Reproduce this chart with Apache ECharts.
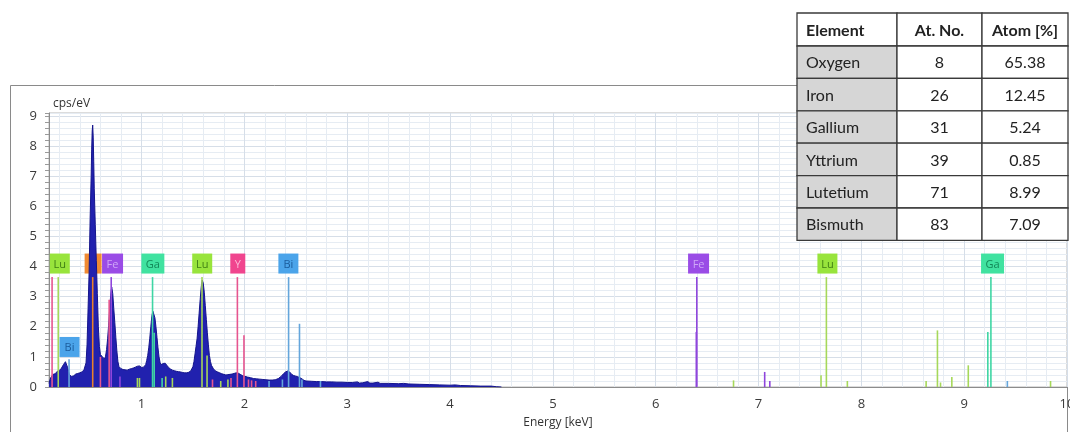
<!DOCTYPE html>
<html>
<head>
<meta charset="utf-8">
<script src="https://cdn.jsdelivr.net/npm/echarts@6/dist/echarts.min.js"></script>
<style>
html, body { margin: 0; padding: 0; background: #fff; }
#main { width: 1070px; height: 432px; }
</style>
</head>
<body>
<div id="main"></div>
<script>
// spectrum (keV, cps/eV)
var energies = [
	0.10, 0.11, 0.12, 0.13, 0.14, 0.15, 0.16, 0.17, 0.18, 0.19,
	0.20, 0.21, 0.22, 0.23, 0.24, 0.25, 0.26, 0.27, 0.28, 0.29,
	0.30, 0.31, 0.32, 0.33, 0.34, 0.35, 0.36, 0.37, 0.38, 0.39,
	0.40, 0.41, 0.42, 0.43, 0.44, 0.45, 0.46, 0.47, 0.48, 0.49,
	0.50, 0.51, 0.515, 0.52, 0.525, 0.53, 0.535, 0.54, 0.55, 0.56,
	0.57, 0.58, 0.59, 0.60, 0.61, 0.62, 0.63, 0.64, 0.65, 0.66,
	0.67, 0.68, 0.69, 0.70, 0.705, 0.71, 0.72, 0.73, 0.74, 0.75,
	0.76, 0.77, 0.78, 0.79, 0.80, 0.82, 0.84, 0.86, 0.88, 0.90,
	0.92, 0.94, 0.96, 0.98, 1.00, 1.02, 1.04, 1.05, 1.06, 1.07,
	1.08, 1.09, 1.10, 1.11, 1.115, 1.12, 1.13, 1.14, 1.15, 1.16,
	1.17, 1.18, 1.19, 1.20, 1.21, 1.22, 1.23, 1.24, 1.26, 1.28,
	1.30, 1.32, 1.34, 1.36, 1.38, 1.40, 1.42, 1.44, 1.46, 1.48,
	1.50, 1.51, 1.52, 1.53, 1.54, 1.55, 1.56, 1.57, 1.58, 1.585,
	1.59, 1.60, 1.61, 1.62, 1.63, 1.64, 1.65, 1.66, 1.67, 1.68,
	1.70, 1.72, 1.74, 1.76, 1.78, 1.80, 1.82, 1.84, 1.86, 1.88,
	1.90, 1.92, 1.94, 1.96, 1.98, 2.00, 2.03, 2.06, 2.09, 2.12,
	2.15, 2.18, 2.21, 2.24, 2.27, 2.30, 2.33, 2.36, 2.38, 2.40,
	2.42, 2.44, 2.46, 2.48, 2.50, 2.52, 2.54, 2.56, 2.58, 2.60,
	2.65, 2.70, 2.75, 2.80, 2.85, 2.90, 2.95, 3.00, 3.05, 3.10,
	3.12, 3.15, 3.20, 3.22, 3.25, 3.30, 3.32, 3.40, 3.50, 3.55,
	3.60, 3.70, 3.80, 3.90, 4.00, 4.05, 4.10, 4.20, 4.30, 4.40,
	4.45, 4.50
];
var counts = [
	0.12, 0.24, 0.33, 0.38, 0.42, 0.46, 0.44, 0.50, 0.52, 0.49,
	0.55, 0.58, 0.62, 0.66, 0.74, 0.80, 0.84, 0.78, 0.66, 0.52,
	0.40, 0.36, 0.35, 0.38, 0.37, 0.41, 0.43, 0.42, 0.45, 0.44,
	0.47, 0.49, 0.50, 0.53, 0.57, 0.63, 0.80, 1.40, 2.60, 3.80,
	5.60, 7.00, 7.90, 8.50, 8.70, 8.30, 7.50, 6.60, 5.40, 4.20,
	3.10, 2.00, 1.35, 1.08, 1.02, 1.00, 0.96, 0.93, 1.02, 1.25,
	1.60, 2.05, 2.60, 3.05, 3.22, 3.32, 3.10, 2.60, 2.15, 1.65,
	1.20, 0.85, 0.68, 0.62, 0.61, 0.58, 0.57, 0.56, 0.59, 0.61,
	0.63, 0.66, 0.69, 0.70, 0.65, 0.66, 0.74, 0.88, 1.05, 1.30,
	1.62, 2.00, 2.35, 2.52, 2.55, 2.50, 2.30, 2.00, 1.65, 1.30,
	1.00, 0.82, 0.74, 0.73, 0.78, 0.81, 0.79, 0.74, 0.66, 0.60,
	0.56, 0.54, 0.52, 0.51, 0.50, 0.48, 0.47, 0.47, 0.49, 0.54,
	0.68, 0.85, 1.10, 1.35, 1.60, 2.00, 2.45, 2.90, 3.30, 3.45,
	3.55, 3.45, 3.15, 2.70, 2.25, 1.80, 1.40, 1.05, 0.85, 0.72,
	0.60, 0.53, 0.50, 0.47, 0.44, 0.42, 0.40, 0.41, 0.42, 0.43,
	0.45, 0.47, 0.46, 0.42, 0.38, 0.36, 0.33, 0.31, 0.28, 0.27,
	0.26, 0.25, 0.24, 0.23, 0.23, 0.24, 0.28, 0.36, 0.44, 0.50,
	0.53, 0.50, 0.42, 0.38, 0.36, 0.34, 0.31, 0.27, 0.22, 0.20,
	0.19, 0.18, 0.18, 0.17, 0.17, 0.16, 0.16, 0.15, 0.15, 0.17,
	0.13, 0.14, 0.18, 0.13, 0.13, 0.16, 0.12, 0.12, 0.11, 0.12,
	0.10, 0.09, 0.08, 0.07, 0.06, 0.07, 0.05, 0.04, 0.03, 0.03,
	0.01, 0.00
];

// element line markers: energy (keV), height (cps/eV), element
var lineEnergies = [0.13, 0.19, 0.295, 0.525, 0.60, 0.685, 0.705, 0.79, 0.96, 0.98,
	1.107, 1.123, 1.20, 1.235, 1.30, 1.588, 1.637, 1.69, 1.77, 1.84,
	1.87, 1.932, 1.996, 2.04, 2.07, 2.11, 2.24, 2.37, 2.43, 2.536,
	2.56, 2.74, 6.40, 6.395, 6.757, 7.06, 7.11, 7.608, 7.66, 7.864,
	8.63, 8.74, 8.77, 8.88, 9.04, 9.23, 9.26, 9.42, 9.84];
var lineHeights = [3.65, 3.65, 0.92, 3.65, 1.0, 2.9, 3.65, 0.35, 0.3, 0.3,
	3.65, 1.8, 0.3, 0.35, 0.3, 3.65, 1.05, 0.25, 0.2, 0.25,
	0.3, 3.65, 1.72, 0.25, 0.22, 0.2, 0.2, 0.25, 3.65, 2.1,
	0.25, 0.2, 3.65, 1.83, 0.22, 0.5, 0.2, 0.39, 3.65, 0.2,
	0.2, 1.88, 0.15, 0.33, 0.72, 1.83, 3.65, 0.2, 0.2];
var lineElements = ['Y', 'Lu', 'Bi', 'O', 'Y', 'Y', 'Fe', 'Fe', 'Lu', 'Lu',
	'Ga', 'Ga', 'Ga', 'Lu', 'Lu', 'Lu', 'Lu', 'Y', 'Lu', 'Lu',
	'Y', 'Y', 'Y', 'Y', 'Y', 'Y', 'Bi', 'Bi', 'Bi', 'Bi',
	'Bi', 'Bi', 'Fe', 'Fe', 'Lu', 'Fe', 'Fe', 'Lu', 'Lu', 'Lu',
	'Lu', 'Lu', 'Lu', 'Lu', 'Lu', 'Ga', 'Ga', 'Bi', 'Lu'];

// element label boxes
var labelEnergies = [0.205, 0.529, 0.718, 1.11, 1.59, 1.936, 2.428, 0.30, 6.417, 7.67, 9.276];
var labelLevels = [4.1, 4.1, 4.1, 4.1, 4.1, 4.1, 4.1, 1.33, 4.1, 4.1, 4.1];
var labelElements = ['Lu', 'O', 'Fe', 'Ga', 'Lu', 'Y', 'Bi', 'Bi', 'Fe', 'Lu', 'Ga'];

// quantification table
var tableHeader = ['Element', 'At. No.', 'Atom [%]'];
var tableNames = ['Oxygen', 'Iron', 'Gallium', 'Yttrium', 'Lutetium', 'Bismuth'];
var tableAtNo = ['8', '26', '31', '39', '71', '83'];
var tableAtom = ['65.38', '12.45', '5.24', '0.85', '8.99', '7.09'];

var lineColors = { Y: '#e6558f', Lu: '#a6d85a', Bi: '#64a6dc', O: '#e8802c', Fe: '#8f45dc', Ga: '#3fd6a4' };
var boxColors = { Y: '#f0458e', Lu: '#98e43c', Bi: '#4ba4ea', O: '#f08a32', Fe: '#9a4ce6', Ga: '#40e2a0' };
var boxText = { Y: '#fbb8d6', Lu: '#3f7f14', Bi: '#1b5c9c', O: '#8c4310', Fe: '#cfa6f7', Ga: '#128858' };
var boxWidth = { Y: 15, Lu: 20, Bi: 20, O: 17, Fe: 21, Ga: 23 };

var isInt = function (v) { return Math.abs(v - Math.round(v)) < 1e-6; };
var T = 'rgba(0,0,0,0)', mn = '#e6ecf3', mj = '#d6dee8';

var chart = echarts.init(document.getElementById('main'));

/**
 * table drawn with graphic elements
 */
var colX = [797, 897, 982, 1068];
var tabTop = 13, headH = 33, rowH = 32.4;
var tableGraphics = [];
var rows = [tableHeader];
for (var r = 0; r < tableNames.length; r++) {
	rows.push([tableNames[r], tableAtNo[r], tableAtom[r]]);
}
rows.forEach(function (row, ri) {
	var y = ri === 0 ? tabTop : tabTop + headH + (ri - 1) * rowH;
	var h = ri === 0 ? headH : rowH;
	row.forEach(function (txt, ci) {
		var x = colX[ci], w = colX[ci + 1] - colX[ci];
		tableGraphics.push({
			type: 'rect', z: 100,
			shape: { x: x, y: y, width: w, height: h },
			style: { fill: (ci === 0 && ri > 0) ? '#d6d6d6' : '#fff', stroke: '#3a3a3a', lineWidth: 1.3 }
		});
		tableGraphics.push({
			type: 'text', z: 101,
			style: {
				x: ci === 0 ? x + 9 : x + w / 2,
				y: y + h / 2 + 1,
				text: txt,
				align: ci === 0 ? 'left' : 'center',
				verticalAlign: 'middle',
				fill: '#222',
				font: (ri === 0 ? 'bold ' : '') + '16px Lato'
			}
		});
	});
});

var option = {
	animation: false,
	grid: {
		left: 49, right: 3, top: 113, bottom: 45,
		containLabel: false, outerBoundsMode: 'none',
		show: true, borderColor: '#b8b8b8', borderWidth: 1
	},
	graphic: [{
		type: 'rect', z: -10,
		shape: { x: 10.5, y: 85.5, width: 1057, height: 360 },
		style: { fill: 'none', stroke: '#8a8a8a', lineWidth: 1 }
	}].concat(tableGraphics),
	xAxis: {
		type: 'value', min: 0.1, max: 10, interval: 0.1,
		name: 'Energy [keV]', nameLocation: 'middle', nameGap: 30,
		nameTextStyle: { color: '#333', fontSize: 12, fontFamily: 'Open Sans' },
		axisLine: { lineStyle: { color: '#8c8c8c' } },
		axisTick: { show: false },
		axisLabel: {
			margin: 11, color: '#3a3a3a', fontSize: 13, fontFamily: 'Open Sans',
			formatter: function (v) { return isInt(v) ? String(Math.round(v)) : ''; }
		},
		splitLine: { show: true, lineStyle: { color: [T, mn, T, mn, T, mn, T, mn, T, mj], width: 1 } }
	},
	yAxis: {
		type: 'value', min: 0, max: 9.1, interval: 0.2,
		name: 'cps/eV', nameLocation: 'end', nameGap: 3,
		nameTextStyle: { color: '#333', fontSize: 12, fontFamily: 'Open Sans', align: 'left', verticalAlign: 'bottom', padding: [0, 0, 0, 4] },
		axisLine: { show: true, lineStyle: { color: '#8c8c8c' } },
		axisTick: { show: true, length: 4, lineStyle: { color: '#9a9a9a' } },
		axisLabel: {
			margin: 12, color: '#3a3a3a', fontSize: 13, fontFamily: 'Open Sans',
			formatter: function (v) { return isInt(v) ? String(Math.round(v)) : ''; }
		},
		splitLine: { show: true, lineStyle: { color: [mj, mn, mn, mn, mn], width: 1 } }
	},
	series: [
		{
			// label boxes, underneath the spectrum
			type: 'custom', z: 1, silent: true,
			data: labelEnergies.map(function (e, i) { return [e, labelLevels[i], i]; }),
			encode: { x: 0, y: 1 },
			renderItem: function (params, api) {
				var c = api.coord([api.value(0), api.value(1)]);
				var el = labelElements[api.value(2)];
				var w = boxWidth[el];
				return {
					type: 'group',
					children: [
						{ type: 'rect', shape: { x: c[0] - w / 2, y: c[1] - 10, width: w, height: 20 }, style: { fill: boxColors[el] } },
						{ type: 'text', style: { x: c[0], y: c[1] + 1, text: el, fill: boxText[el], font: '11px "Open Sans"', align: 'center', verticalAlign: 'middle' } }
					]
				};
			}
		},
		{
			name: 'spectrum', type: 'line', z: 2, silent: true,
			data: energies.map(function (e, i) { return [e, counts[i]]; }),
			showSymbol: false, sampling: 'none',
			lineStyle: { color: '#15158c', width: 1 },
			areaStyle: { color: '#2121ae', opacity: 1 }
		},
		{
			// element lines on top
			type: 'custom', z: 3, silent: true,
			data: lineEnergies.map(function (e, i) { return [e, lineHeights[i], i]; }),
			encode: { x: 0, y: 1 },
			renderItem: function (params, api) {
				var p0 = api.coord([api.value(0), 0]);
				var p1 = api.coord([api.value(0), api.value(1)]);
				var el = lineElements[api.value(2)];
				return {
					type: 'line',
					shape: { x1: p0[0], y1: p0[1], x2: p1[0], y2: p1[1] },
					style: { stroke: lineColors[el], lineWidth: 1.6 }
				};
			}
		}
	]
};
chart.setOption(option);
</script>
</body>
</html>
